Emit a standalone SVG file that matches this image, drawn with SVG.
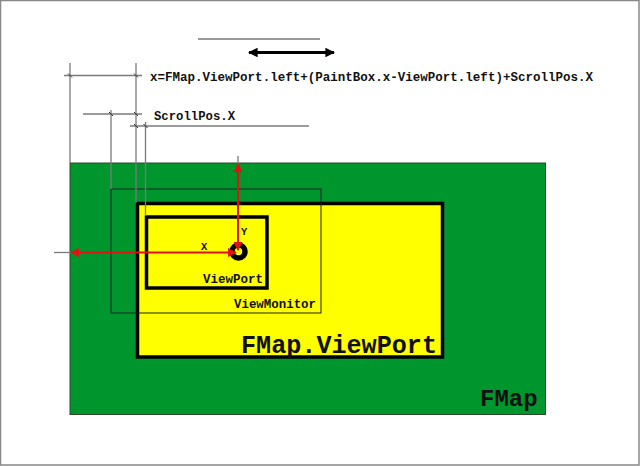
<svg xmlns="http://www.w3.org/2000/svg" width="640" height="466" viewBox="0 0 640 466">
<style>
.dim{stroke:#7a7a7a;stroke-width:1.3;fill:none}
.tick{stroke:#333;stroke-width:1;fill:none}
.red{stroke:#e31212;stroke-width:2;fill:none}
.mono{font-family:"Liberation Mono","DejaVu Sans Mono",monospace;font-weight:bold;fill:#111}
.s{font-size:12.5px}
</style>
<defs>
<marker id="ra" viewBox="0 0 10 10" refX="9" refY="5" markerWidth="4.5" markerHeight="4.5" orient="auto-start-reverse" markerUnits="strokeWidth">
<path d="M0,0 L10,5 L0,10 z" fill="#e31212"/>
</marker>
<marker id="ba" viewBox="0 0 10 10" refX="9" refY="5" markerWidth="3.2" markerHeight="3.2" orient="auto-start-reverse" markerUnits="strokeWidth">
<path d="M0,0 L10,5 L0,10 z" fill="#000"/>
</marker>
</defs>
<rect x="0.5" y="0.5" width="638.5" height="464.5" fill="#fff" stroke="#888" stroke-width="1.5"/>

<g id="FMap">
<rect x="70" y="163" width="475.5" height="251.5" fill="#00962e" stroke="#2a4a2a" stroke-width="1"/>
<text class="mono" x="480" y="406" font-size="24">FMap</text>
</g>
<g id="FMapViewPort">
<rect x="137.5" y="203.5" width="305" height="153.5" fill="#ffff00" stroke="#000" stroke-width="3.5"/>
<text class="mono" x="241" y="353" font-size="25" textLength="196" lengthAdjust="spacingAndGlyphs">FMap.ViewPort</text>
</g>
<g id="ViewMonitor">
<rect x="111" y="189" width="210" height="124" fill="none" stroke="#222" stroke-width="1"/>
<text class="mono s" x="234" y="308" textLength="82" lengthAdjust="spacingAndGlyphs">ViewMonitor</text>
</g>
<g id="ViewPort">
<rect x="146.5" y="217" width="120.5" height="71" fill="none" stroke="#000" stroke-width="3.5"/>
<text class="mono s" x="203" y="283" textLength="60" lengthAdjust="spacingAndGlyphs">ViewPort</text>
</g>

<g id="connectors">
<line class="dim" x1="198" y1="39" x2="320" y2="39" stroke-width="1.6"/>
<line x1="249" y1="52.5" x2="334" y2="52.5" stroke="#000" stroke-width="3" marker-start="url(#ba)" marker-end="url(#ba)"/>
<line class="dim" x1="64" y1="75.5" x2="142" y2="75.5"/>
<line class="dim" x1="83" y1="114" x2="142" y2="114"/>
<line class="dim" x1="130" y1="126" x2="309" y2="126"/>
<line class="dim" x1="70" y1="63" x2="70" y2="163"/>
<line class="dim" x1="136" y1="63" x2="136" y2="203"/>
<line class="dim" x1="111" y1="110" x2="111" y2="189"/>
<line class="dim" x1="145.5" y1="122" x2="145.5" y2="216"/>
<line class="tick" x1="68" y1="73.5" x2="72" y2="77.5"/>
<line class="tick" x1="134" y1="73.5" x2="138" y2="77.5"/>
<line class="tick" x1="109" y1="112" x2="113" y2="116"/>
<line class="tick" x1="134" y1="112" x2="138" y2="116"/>
<line class="tick" x1="134" y1="124" x2="138" y2="128"/>
<line class="tick" x1="143.5" y1="124" x2="147.5" y2="128"/>
<line class="dim" x1="54" y1="252.5" x2="72" y2="252.5"/>
<line class="dim" x1="238" y1="156" x2="238" y2="165"/>
<circle cx="238.5" cy="251.5" r="6.5" fill="#ffff00" stroke="#000" stroke-width="5.5"/>
<line class="red" x1="236" y1="252.5" x2="71" y2="252.5" marker-start="url(#ra)" marker-end="url(#ra)"/>
<line class="red" x1="238" y1="250" x2="238" y2="164" marker-start="url(#ra)" marker-end="url(#ra)"/>
</g>

<text class="mono s" x="150" y="81" textLength="443" lengthAdjust="spacingAndGlyphs">x=FMap.ViewPort.left+(PaintBox.x-ViewPort.left)+ScrollPos.X</text>
<text class="mono s" x="154" y="120" textLength="81" lengthAdjust="spacingAndGlyphs">ScrollPos.X</text>
<text class="mono" x="201" y="250" font-size="10.5">X</text>
<text class="mono" x="241" y="235" font-size="10.5">Y</text>
</svg>
